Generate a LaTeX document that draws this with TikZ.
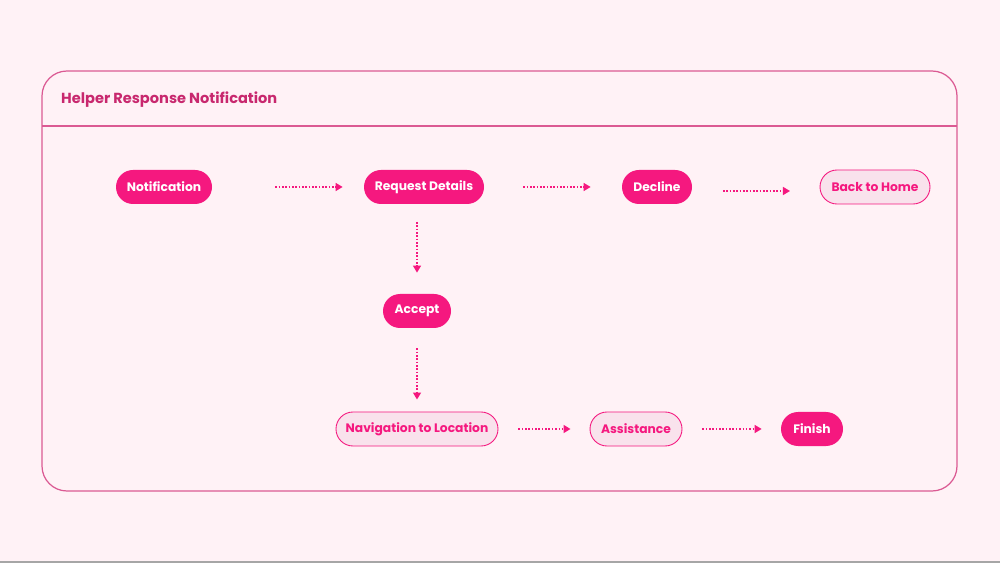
\documentclass[tikz,border=0pt]{standalone}
\usepackage{fontspec}
\setmainfont{Poppins}
\usetikzlibrary{arrows.meta}
\definecolor{bgpink}{HTML}{FFF2F6}
\definecolor{hotpink}{HTML}{F5187F}
\definecolor{palepink}{HTML}{F9E2EC}
\definecolor{framepink}{HTML}{DB5A93}
\definecolor{titlepink}{HTML}{C8286E}
\tikzset{
	pill/.style={rounded corners=17*0.02cm,minimum height=34*0.02cm,inner xsep=0pt,font=\fontsize{7}{8}\selectfont\bfseries},
	solid pill/.style={pill,fill=hotpink,text=white},
	open pill/.style={pill,draw=hotpink,fill=palepink,text=hotpink,line width=0.5pt},
	flow/.style={hotpink,densely dotted,line width=0.9pt,-{Triangle[length=4pt,width=4.5pt]}}
}
\begin{document}
\begin{tikzpicture}[x=0.02cm,y=-0.02cm]
	\fill[bgpink] (0,0) rectangle (1000,563);
	\useasboundingbox (0,0) rectangle (1000,563);
	\draw[gray!70,line width=0.8pt] (0,562) -- (1000,562);
	\draw[framepink,line width=0.7pt,rounded corners=25*0.02cm] (42,71) rectangle (957,491);
	\draw[framepink,line width=0.7pt] (42,126) -- (957,126);
	\node[anchor=west,text=titlepink,font=\fontsize{8.3}{10}\selectfont\bfseries] (title) at (55,100) {Helper Response Notification};
	\node[solid pill,minimum width=96*0.02cm] (notif) at (164,187) {Notification};
	\node[solid pill,minimum width=120*0.02cm] (req) at (424,187) {Request Details};
	\node[solid pill,minimum width=70*0.02cm] (decl) at (657,187) {Decline};
	\node[open pill,minimum width=110*0.02cm] (home) at (875,187) {Back to Home};
	\node[solid pill,minimum width=68*0.02cm] (acc) at (417,311) {Accept};
	\node[open pill,minimum width=162*0.02cm] (nav) at (417,429) {Navigation to Location};
	\node[open pill,minimum width=92*0.02cm] (assist) at (636,429) {Assistance};
	\node[solid pill,minimum width=62*0.02cm] (fin) at (812,429) {Finish};
	% connectors
	\coordinate (d1) at (723,191);
	\coordinate (h1) at (790,191);
	\coordinate (r1) at (417,204);
	\draw[flow,shorten <=63*0.02cm,shorten >=21*0.02cm] (notif) -- (req);
	\draw[flow,shorten <=39*0.02cm,shorten >=31*0.02cm] (req) -- (decl);
	\draw[flow] (d1) -- (h1);
	\draw[flow,shorten <=18*0.02cm,shorten >=21*0.02cm] (r1) -- (acc.north);
	\draw[flow,shorten <=20*0.02cm,shorten >=12*0.02cm] (acc) -- (nav);
	\draw[flow,shorten <=20*0.02cm,shorten >=19*0.02cm] (nav) -- (assist);
	\draw[flow,shorten <=20*0.02cm,shorten >=19*0.02cm] (assist) -- (fin);
\end{tikzpicture}
\end{document}
